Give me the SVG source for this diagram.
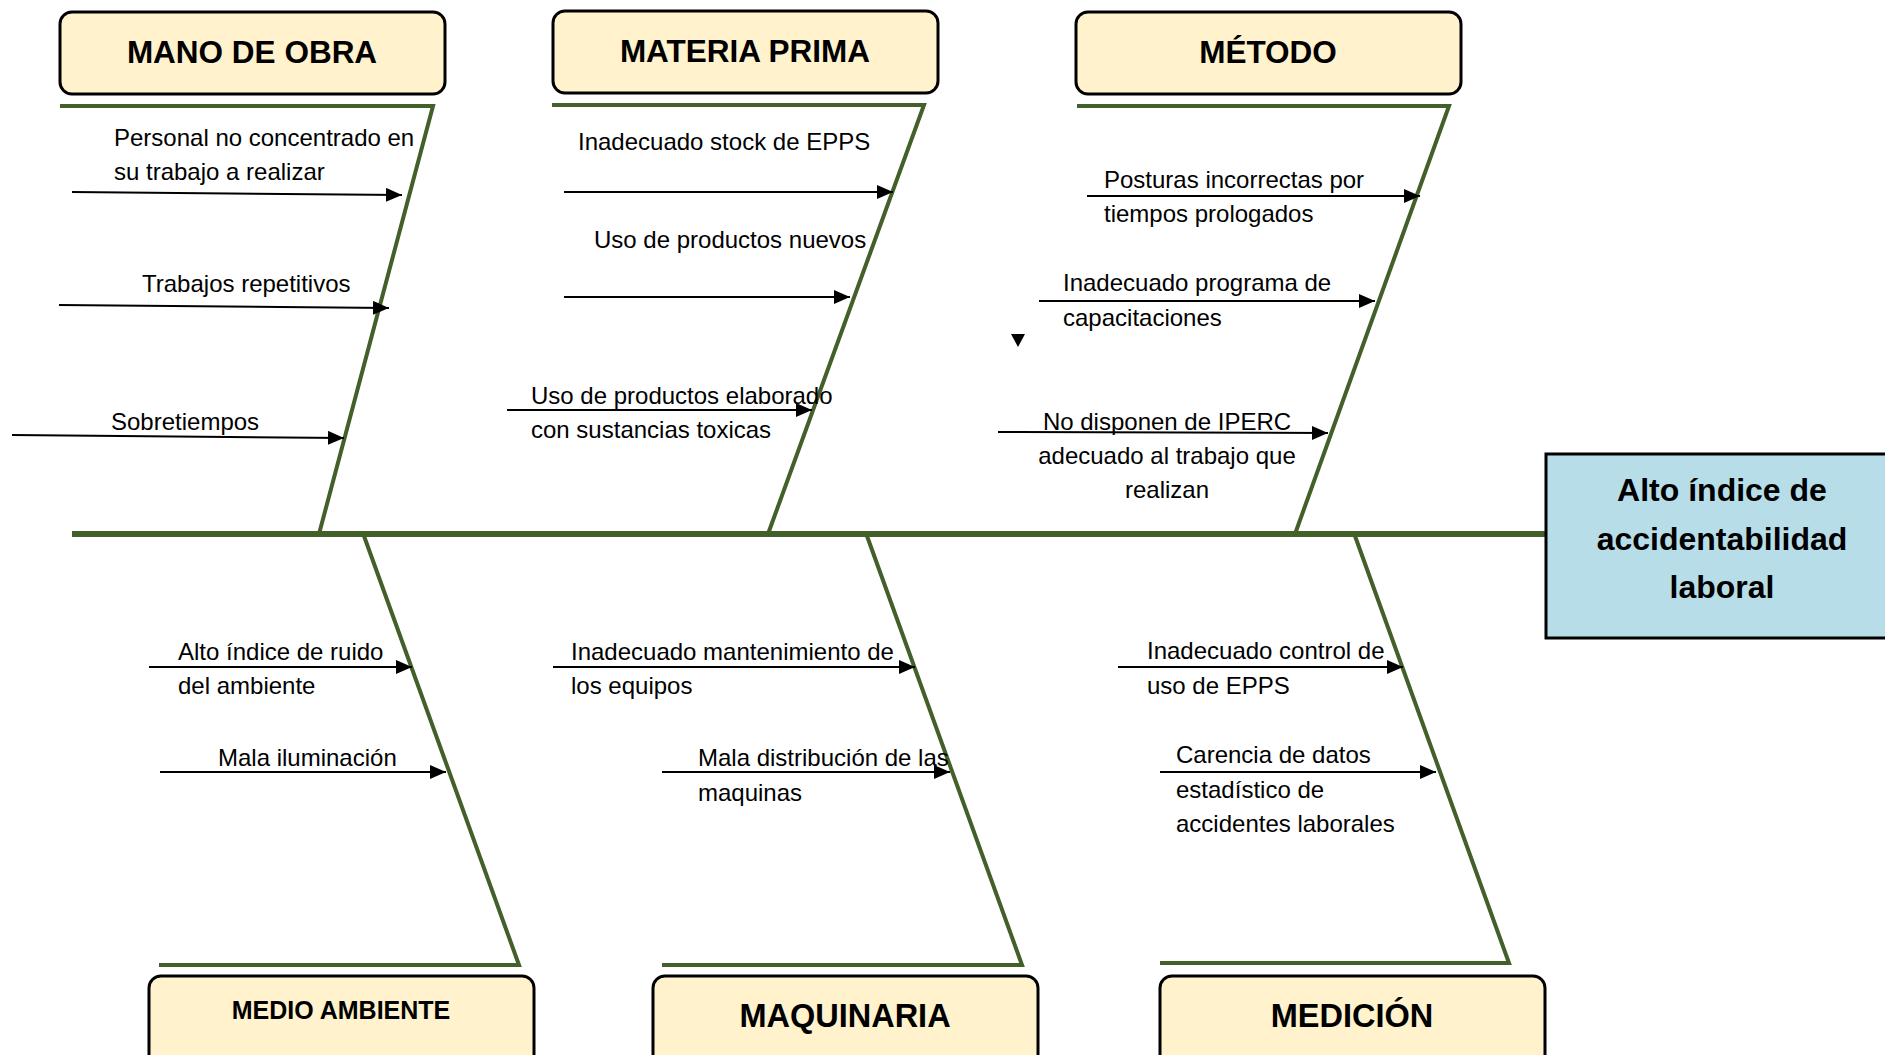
<svg xmlns="http://www.w3.org/2000/svg" width="1885" height="1055" viewBox="0 0 1885 1055">
<style>
.cat{fill:#fff2cc;stroke:#000;stroke-width:3}
.cattxt{font-family:"Liberation Sans",Arial,sans-serif;font-weight:bold;fill:#000;text-anchor:middle}
.bone{stroke:#435f2a;stroke-width:4;fill:none}
.spine{stroke:#435f2a;stroke-width:6;fill:none}
.arr{stroke:#000;stroke-width:2;fill:none;marker-end:url(#ah)}
.lbl{font-family:"Liberation Sans",Arial,sans-serif;font-size:24px;fill:#000}
.eff{fill:#b7dde8;stroke:#000;stroke-width:3}
.efftxt{font-family:"Liberation Sans",Arial,sans-serif;font-weight:bold;font-size:32px;fill:#000;text-anchor:middle}
</style>
<defs>
<marker id="ah" viewBox="0 0 16 14" refX="16" refY="7" markerWidth="16" markerHeight="14" markerUnits="userSpaceOnUse" orient="auto">
<path d="M0,0 L16,7 L0,14 z" fill="#000"/>
</marker>
</defs>
<rect width="1885" height="1055" fill="#fff"/>

<g id="connectors">
<line class="spine" x1="72" y1="534" x2="1546" y2="534"/>
<polyline class="bone" points="60,106 433,106 319,534"/>
<polyline class="bone" points="552,105 924,105 768,534"/>
<polyline class="bone" points="1077,106 1449,106 1295,534"/>
<polyline class="bone" points="364,536 519,965 159,965"/>
<polyline class="bone" points="867,536 1022,965 662,965"/>
<polyline class="bone" points="1355,536 1509,963 1160,963"/>

<line class="arr" x1="72" y1="192" x2="402" y2="195"/>
<line class="arr" x1="59" y1="305" x2="389" y2="308"/>
<line class="arr" x1="12" y1="435" x2="344" y2="438"/>

<line class="arr" x1="564" y1="192" x2="893" y2="192"/>
<line class="arr" x1="564" y1="297" x2="850" y2="297"/>
<line class="arr" x1="507" y1="410" x2="812" y2="410"/>

<line class="arr" x1="1087" y1="196" x2="1420" y2="196"/>
<line class="arr" x1="1039" y1="301" x2="1375" y2="301"/>
<line class="arr" x1="998" y1="432" x2="1328" y2="433"/>

<line class="arr" x1="149" y1="667" x2="412" y2="667"/>
<line class="arr" x1="160" y1="772" x2="446" y2="772"/>
<line class="arr" x1="553" y1="667" x2="915" y2="667"/>
<line class="arr" x1="662" y1="772" x2="950" y2="772"/>
<line class="arr" x1="1118" y1="667" x2="1403" y2="667"/>
<line class="arr" x1="1160" y1="772" x2="1436" y2="772"/>

<polygon points="1011,334 1025,334 1018,347" fill="#000"/>
</g>

<g id="mano-de-obra">
<rect class="cat" x="60" y="12" width="385" height="82" rx="12"/>
<text class="cattxt" x="252" y="63" font-size="31.5">MANO DE OBRA</text>
</g>
<g id="materia-prima">
<rect class="cat" x="553" y="11" width="385" height="82" rx="12"/>
<text class="cattxt" x="745" y="62" font-size="31.5">MATERIA PRIMA</text>
</g>
<g id="metodo">
<rect class="cat" x="1076" y="12" width="385" height="82" rx="12"/>
<text class="cattxt" x="1268" y="63" font-size="31.5">MÉTODO</text>
</g>
<g id="medio-ambiente">
<rect class="cat" x="149" y="976" width="385" height="100" rx="12"/>
<text class="cattxt" x="341" y="1019" font-size="25">MEDIO AMBIENTE</text>
</g>
<g id="maquinaria">
<rect class="cat" x="653" y="976" width="385" height="100" rx="12"/>
<text class="cattxt" x="845" y="1027" font-size="32.5">MAQUINARIA</text>
</g>
<g id="medicion">
<rect class="cat" x="1160" y="976" width="385" height="100" rx="12"/>
<text class="cattxt" x="1352" y="1027" font-size="32.5">MEDICIÓN</text>
</g>

<g id="efecto">
<rect class="eff" x="1546" y="454" width="350" height="184"/>
<text class="efftxt" x="1722" y="501">Alto índice de</text>
<text class="efftxt" x="1722" y="550">accidentabilidad</text>
<text class="efftxt" x="1722" y="598">laboral</text>
</g>

<g id="causas">
<text class="lbl" x="114" y="146">Personal no concentrado en</text>
<text class="lbl" x="114" y="180">su trabajo a realizar</text>
<text class="lbl" x="142" y="292">Trabajos repetitivos</text>
<text class="lbl" x="111" y="430">Sobretiempos</text>

<text class="lbl" x="578" y="150">Inadecuado stock de EPPS</text>
<text class="lbl" x="594" y="248">Uso de productos nuevos</text>
<text class="lbl" x="531" y="404">Uso de productos elaborado</text>
<text class="lbl" x="531" y="438">con sustancias toxicas</text>

<text class="lbl" x="1104" y="188">Posturas incorrectas por</text>
<text class="lbl" x="1104" y="222">tiempos prologados</text>
<text class="lbl" x="1063" y="291">Inadecuado programa de</text>
<text class="lbl" x="1063" y="326">capacitaciones</text>
<text class="lbl" x="1167" y="430" text-anchor="middle">No disponen de IPERC</text>
<text class="lbl" x="1167" y="464" text-anchor="middle">adecuado al trabajo que</text>
<text class="lbl" x="1167" y="498" text-anchor="middle">realizan</text>

<text class="lbl" x="178" y="660">Alto índice de ruido</text>
<text class="lbl" x="178" y="694">del ambiente</text>
<text class="lbl" x="218" y="766">Mala iluminación</text>

<text class="lbl" x="571" y="660">Inadecuado mantenimiento de</text>
<text class="lbl" x="571" y="694">los equipos</text>
<text class="lbl" x="698" y="766">Mala distribución de las</text>
<text class="lbl" x="698" y="801">maquinas</text>

<text class="lbl" x="1147" y="659">Inadecuado control de</text>
<text class="lbl" x="1147" y="694">uso de EPPS</text>
<text class="lbl" x="1176" y="763">Carencia de datos</text>
<text class="lbl" x="1176" y="798">estadístico de</text>
<text class="lbl" x="1176" y="832">accidentes laborales</text>
</g>
</svg>
